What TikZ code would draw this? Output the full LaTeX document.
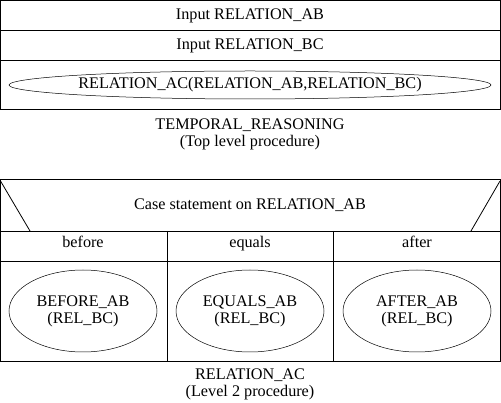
\documentclass[tikz,border=0pt]{standalone}
\usepackage{fontspec}
\setmainfont{Liberation Serif}
\usetikzlibrary{shapes.geometric}
\begin{document}
\begin{tikzpicture}[x=1pt,y=-1pt,line width=0.8pt,
	lbl/.style={font=\fontsize{16.2}{17}\selectfont,inner sep=0pt,anchor=base},
	oval/.style={draw,ellipse,line width=0.5pt,inner sep=0pt,align=center,font=\fontsize{16.2}{17}\selectfont}]
	\useasboundingbox (0,0) rectangle (501,403);
	% top level procedure
	\draw (0.5,0.5) rectangle (500,109);
	\draw (0.5,30) -- (500,30);
	\draw (0.5,60) -- (500,60);
	\node[lbl] (inab) at (250,20) {Input RELATION\_AB};
	\node[lbl] (inbc) at (250,49.5) {Input RELATION\_BC};
	\node[lbl,anchor=center] (call) at (250,85) {RELATION\_AC(RELATION\_AB,RELATION\_BC)};
	\draw[line width=0.5pt] (call.center) ellipse [x radius=241pt, y radius=14pt];
	\node[lbl] (top) at (250,130) {TEMPORAL\_REASONING};
	\node[lbl] (topsub) at (250,147) {(Top level procedure)};
	% level 2 procedure
	\draw (0.5,179) rectangle (500,361);
	\draw (0.5,231) -- (500,231);
	\draw (0.5,261) -- (500,261);
	\draw (167,231) -- (167,361);
	\draw (333,231) -- (333,361);
	\draw (0.5,181) -- (30,231);
	\draw (500,181) -- (471,231);
	\node[lbl] (case) at (250,209.5) {Case statement on RELATION\_AB};
	\foreach \x/\c/\n/\t in {83/bef/before/BEFORE, 250/equ/equals/EQUALS, 417/aft/after/AFTER}
	{
		\node[lbl] (\c) at (\x,248) {\n};
		\node[oval,minimum width=148pt,minimum height=82pt] (\c proc) at (\x,311) {\t\_AB\\(REL\_BC)};
	}
	\node[lbl] (relac) at (250,379.5) {RELATION\_AC};
	\node[lbl] (relacsub) at (250,397) {(Level 2 procedure)};
\end{tikzpicture}
\end{document}
